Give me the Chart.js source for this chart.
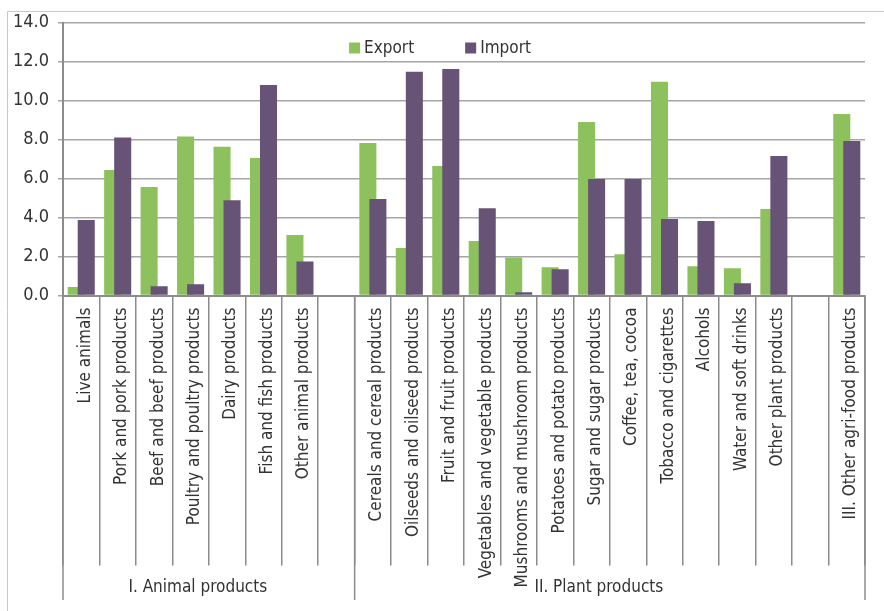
<!DOCTYPE html>
<html>
<head>
<meta charset="utf-8">
<script src="https://cdn.jsdelivr.net/npm/chart.js@4.4.0/dist/chart.umd.min.js"></script>
<style>
  html, body { margin: 0; padding: 0; background: #fff; }
</style>
</head>
<body>
<canvas id="chart" width="884" height="611"></canvas>
<script>
// categories along the x axis ('' = empty spacer slot between groups)
const categories = [
  'Live animals', 'Pork and pork products', 'Beef and beef products',
  'Poultry and poultry products', 'Dairy products', 'Fish and fish products',
  'Other animal products', '',
  'Cereals and cereal products', 'Oilseeds and oilseed products', 'Fruit and fruit products',
  'Vegetables and vegetable products', 'Mushrooms and mushroom products',
  'Potatoes and potato products', 'Sugar and sugar products', 'Coffee, tea, cocoa',
  'Tobacco and cigarettes', 'Alcohols', 'Water and soft drinks', 'Other plant products', '',
  'III. Other agri-food products'
];
const seriesNames = ['Export', 'Import'];
const exportValues = [0.44, 6.43, 5.56, 8.15, 7.63, 7.05, 3.10, null, 7.82, 2.43, 6.64, 2.79, 1.95, 1.45, 8.90, 2.12, 10.96, 1.50, 1.40, 4.43, null, 9.31];
const importValues = [3.87, 8.10, 0.48, 0.58, 4.89, 10.80, 1.75, null, 4.95, 11.47, 11.62, 4.48, 0.17, 1.35, 5.97, 5.97, 3.92, 3.82, 0.63, 7.15, null, 7.92];
const yTicks = [0, 2, 4, 6, 8, 10, 12, 14];
const groupLabels = ['I. Animal products', 'II. Plant products'];
const groupSizes = [8, 14];

const GREEN = '#8dc15e';
const PURPLE = '#675375';
const FONT = '"DejaVu Sans Condensed", "DejaVu Sans", sans-serif';
const TEXT = '#333333';

Chart.defaults.font.family = FONT;
Chart.defaults.color = TEXT;

const empty = categories.map(() => null);

// frame, group separators, group labels and the legend inside the plot
const decorations = {
  id: 'decorations',
  beforeDraw(chart) {
    const ctx = chart.ctx;
    ctx.save();
    ctx.strokeStyle = '#c8c8c8';
    ctx.lineWidth = 1;
    ctx.beginPath();
    ctx.moveTo(7.5, chart.height);
    ctx.lineTo(7.5, 11.5);
    ctx.lineTo(chart.width, 11.5);
    ctx.stroke();
    ctx.restore();
  },
  afterDraw(chart) {
    const ctx = chart.ctx;
    const x = chart.scales.x;
    const top = chart.chartArea.bottom;
    ctx.save();
    ctx.strokeStyle = '#8c8c8c';
    ctx.lineWidth = 1.5;
    ctx.font = '17px ' + FONT;
    ctx.fillStyle = TEXT;
    ctx.textAlign = 'center';
    ctx.textBaseline = 'middle';
    let start = 0;
    const edges = [0];
    groupSizes.forEach((n, i) => {
      const left = x.getPixelForValue(start - 0.5);
      const right = x.getPixelForValue(start + n - 0.5);
      ctx.fillText(groupLabels[i], (left + right) / 2 - 11, 588);
      start += n;
      edges.push(start);
    });
    edges.forEach(e => {
      const px = x.getPixelForValue(e - 0.5);
      ctx.beginPath();
      ctx.moveTo(px, top);
      ctx.lineTo(px, 600);
      ctx.stroke();
    });

    // legend
    const box = 11, gap = 4, spacing = 51, cy = 48;
    const items = seriesNames.map(name => {
      const ds = chart.data.datasets.find(d => d.label === name);
      return { name, color: ds.backgroundColor, w: ctx.measureText(name).width };
    });
    const total = items.reduce((s, it) => s + box + gap + it.w, 0) + spacing * (items.length - 1);
    let lx = chart.width / 2 - 2 - total / 2;
    ctx.textAlign = 'left';
    items.forEach(it => {
      ctx.fillStyle = it.color;
      ctx.fillRect(lx, cy - box / 2, box, box);
      ctx.fillStyle = TEXT;
      ctx.fillText(it.name, lx + box + gap, cy + 1);
      lx += box + gap + it.w + spacing;
    });
    ctx.restore();
  }
};

new Chart(document.getElementById('chart'), {
  type: 'bar',
  data: {
    labels: categories,
    datasets: [
      // empty dataset: puts the 'left' slot first so Export sits left of Import
      { label: '_pad', data: empty, stack: 'left', order: 0 },
      { label: seriesNames[1], data: importValues, backgroundColor: PURPLE, stack: 'right', order: 1 },
      { label: seriesNames[0], data: exportValues, backgroundColor: GREEN, stack: 'left', order: 2 }
    ]
  },
  options: {
    responsive: false,
    animation: false,
    categoryPercentage: 0.55,
    barPercentage: 1.7,
    layout: { padding: { left: 0, top: 22.5, right: 19, bottom: 0 } },
    plugins: {
      legend: { display: false },
      tooltip: { enabled: false }
    },
    scales: {
      x: {
        offset: true,
        grid: {
          offset: true,
          drawOnChartArea: false,
          drawTicks: true,
          tickLength: 270,
          color: '#8c8c8c',
          lineWidth: 1.5
        },
        border: { color: '#8c8c8c', width: 2 },
        ticks: {
          autoSkip: false,
          minRotation: 90,
          maxRotation: 90,
          padding: -258,
          labelOffset: 4,
          color: TEXT,
          font: { size: 17 }
        },
        afterFit(s) {
          s.height = 315.5;
          s.paddingLeft = 0;
          s.paddingRight = 0;
        }
      },
      y: {
        stacked: false,
        min: 0,
        max: 14,
        afterBuildTicks(s) {
          s.ticks = yTicks.map(v => ({ value: v }));
        },
        grid: { color: '#a6a6a6', lineWidth: 1.5, tickLength: 5 },
        border: { color: '#8c8c8c', width: 2 },
        ticks: {
          padding: 9,
          color: TEXT,
          font: { size: 18 },
          callback: v => v.toFixed(1)
        },
        afterFit(s) {
          s.width = 63;
          s.paddingTop = 0;
          s.paddingBottom = 0;
        }
      }
    }
  },
  plugins: [decorations]
});
</script>
</body>
</html>
